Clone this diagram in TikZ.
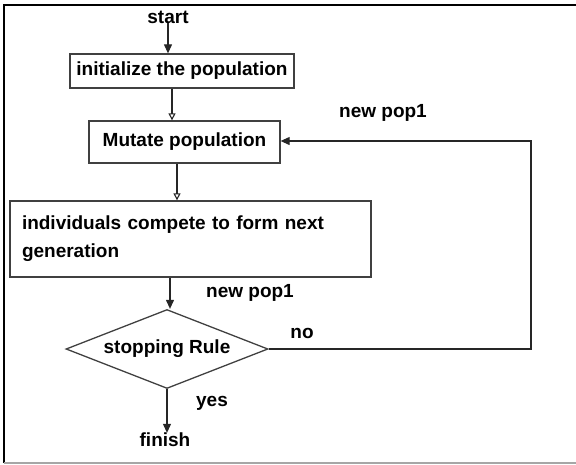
\documentclass[tikz,border=0pt]{standalone}
\usepackage{fontspec}
\setmainfont{Liberation Sans}
\usetikzlibrary{shapes.geometric,arrows.meta}
\begin{document}
\begin{tikzpicture}[x=1pt,y=1pt]
\tikzstyle{every node}+=[inner sep=0pt,font=\bfseries\fontsize{19}{28}\selectfont]
\tikzstyle{box}=[draw=black!75,line width=1.3pt]
\tikzstyle{flow}=[draw=black!85,line width=1.1pt,-{Triangle[length=9pt,width=8pt]}]
\tikzstyle{thin flow}=[draw=black!85,line width=1.1pt,-{Triangle[open,length=7pt,width=7pt]}]
\useasboundingbox (0,0) rectangle (576,-464);
\draw[line width=2pt] (4,-463) -- (4,-5) -- (576,-5);
\draw[black!35,line width=1.5pt] (4,-463) -- (576,-463);
\node (start) at (168,-17) {start};
\node[box,minimum width=224pt,minimum height=34pt] (init) at (182,-71) {initialize the population};
\node[box,minimum width=191pt,minimum height=42pt] (mutate) at (184.5,-142) {Mutate population};
\node[box,minimum width=361pt,minimum height=76pt,inner xsep=12pt,text width=337pt,align=left] (compete) at (190.5,-239) {individuals compete to form next\\generation};
\node[box,diamond,aspect=2.56,minimum width=202pt,minimum height=79pt] (rule) at (167,-349) {stopping Rule};
\node (finish) at (165,-440) {finish};
\node (pop1) at (383,-113) {new pop1};
\node (pop2) at (250,-293) {new pop1};
\node (no) at (302,-333) {no};
\node (yes) at (212,-403) {yes};
\draw[flow] (start.south -| 168,0) -- (init.north -| 168,0);
\draw[thin flow] (init.south -| 172,0) -- (mutate.north -| 172,0);
\draw[thin flow] (mutate.south -| 177,0) -- (compete.north -| 177,0);
\draw[flow] (compete.south -| 170,0) -- (rule.north -| 170,0);
\draw[flow] (rule.south) -- (finish.north -| rule.south);
\draw[flow] (rule.east) -- (531,-349) -- (531,-141) -- (mutate.east |- 0,-141);
\end{tikzpicture}
\end{document}
